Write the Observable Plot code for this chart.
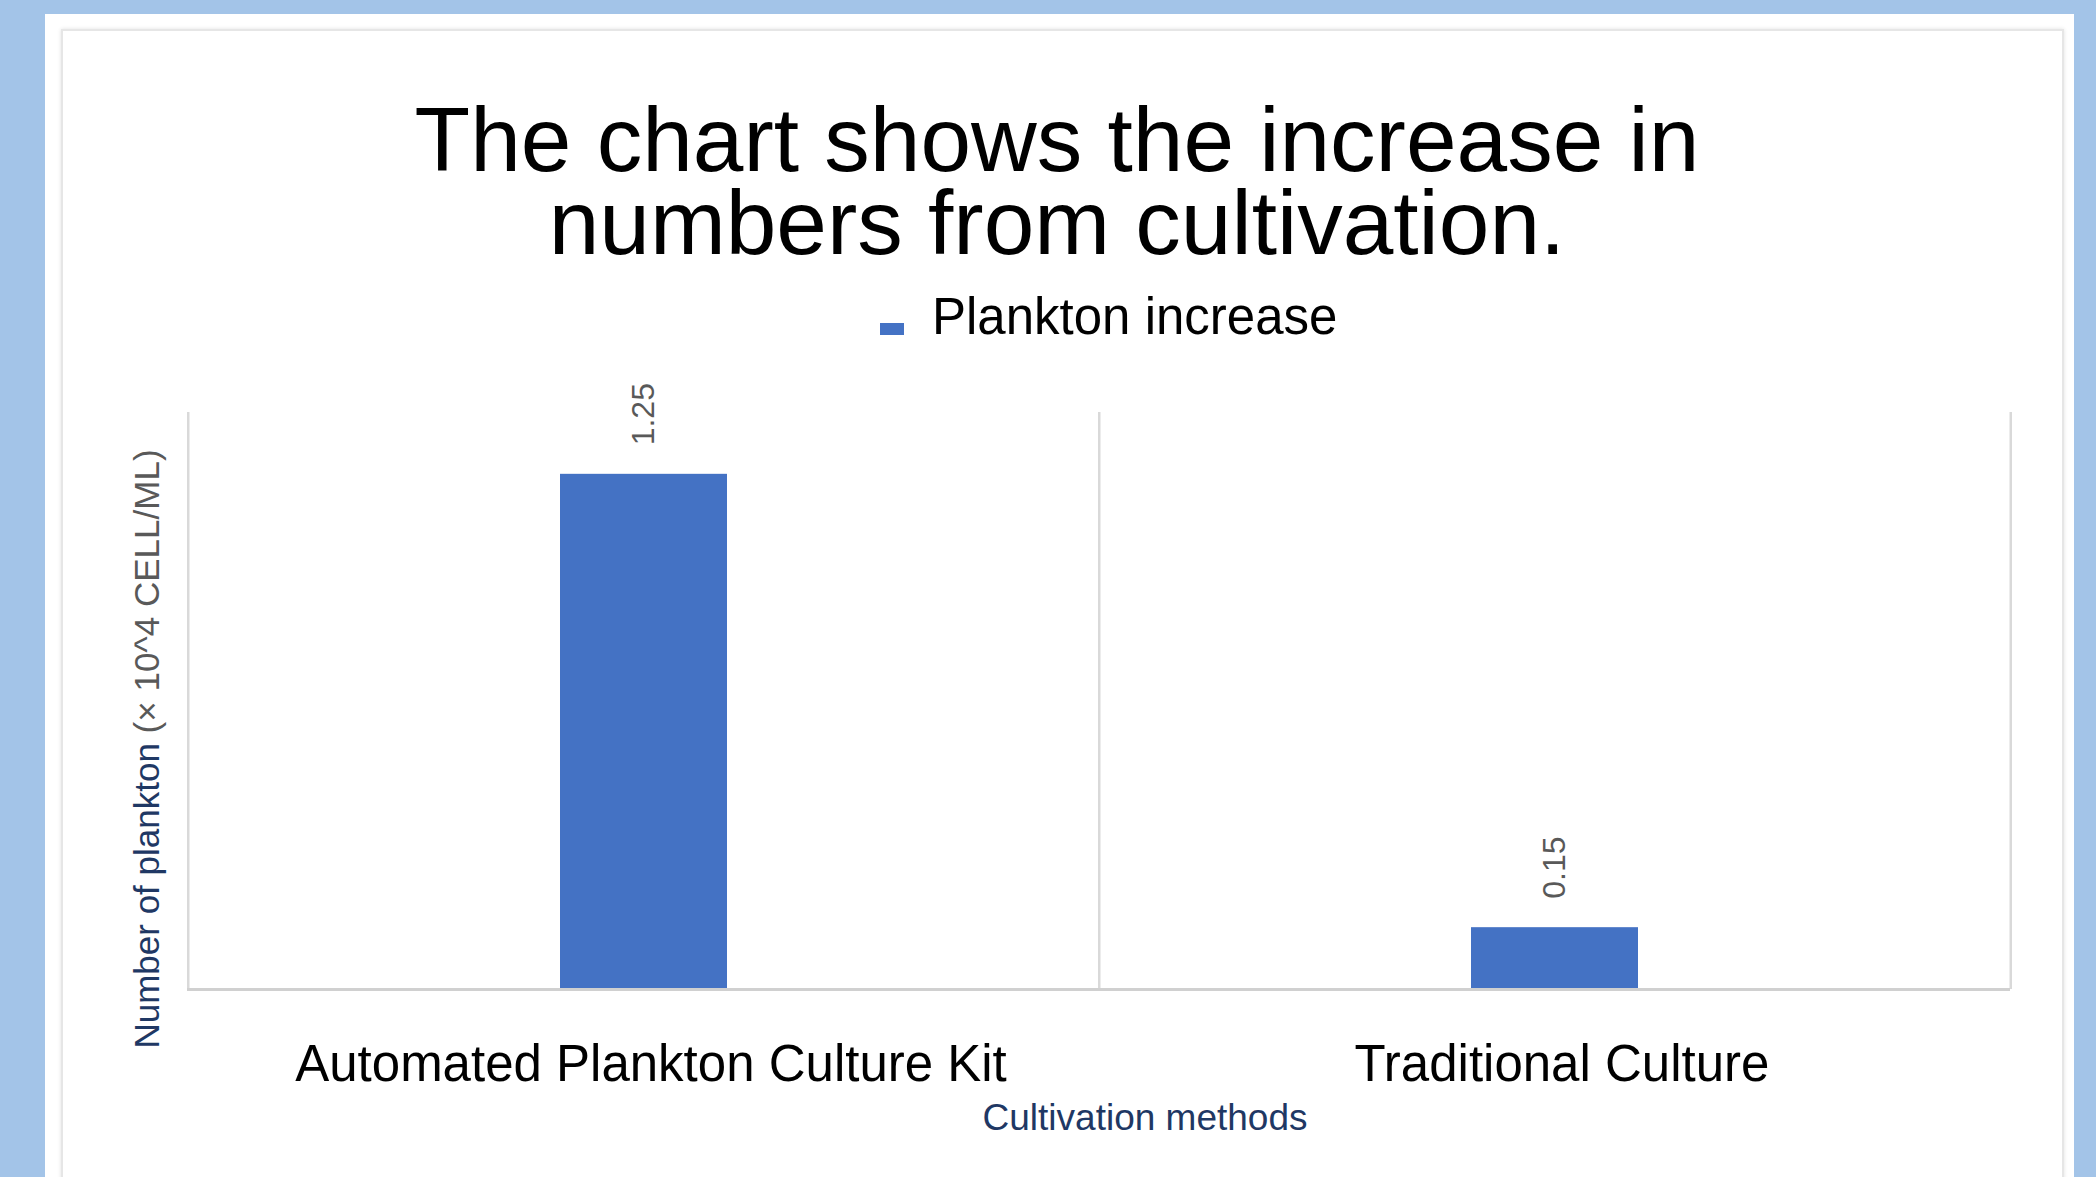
<!DOCTYPE html>
<html>
<head>
<meta charset="utf-8">
<script src="https://cdn.jsdelivr.net/npm/d3@7"></script>
<script src="https://cdn.jsdelivr.net/npm/@observablehq/plot@0.6"></script>
<style>
  html, body { margin: 0; padding: 0; }
  body { width: 2096px; height: 1177px; overflow: hidden; background: #A3C4E8; position: relative; font-family: "Liberation Sans", Arial, sans-serif; }
  #panel { position: absolute; left: 45px; top: 14px; width: 2029px; height: 1200px; background: #fff; }
  #card { position: absolute; left: 61px; top: 29px; width: 1999px; height: 1200px; border: 2px solid #e6e6e6; box-shadow: 0 0 4px rgba(0,0,0,0.12); background: #fff; }
  #title { position: absolute; left: 61px; top: 98px; width: 1992px; text-align: center; font-size: 91px; line-height: 83px; color: #000; }
  #title div { height: 83px; white-space: nowrap; }
  #legend { position: absolute; left: 880px; top: 291px; height: 51px; font-size: 51px; line-height: 51px; color: #000; white-space: nowrap; }
  #legend .sw { position: absolute; left: 0; top: 32px; width: 24px; height: 12px; background: #4472C4; }
  #legend .lb { position: absolute; left: 52px; top: 0; }
  #chart { position: absolute; left: 0; top: 360px; }
</style>
</head>
<body>
<div id="panel"></div>
<div id="card"></div>
<div id="title"><div id="t1"></div><div id="t2"></div></div>
<div id="legend"><div class="sw"></div><div class="lb"></div></div>
<div id="chart"></div>
<script>
// ---- data ----
const titleLines = ["The chart shows the increase in", "numbers from cultivation."];
const seriesName = "Plankton increase";
const methods = ["Automated Plankton Culture Kit", "Traditional Culture"];
const increase = [1.25, 0.15];
const yTitleMain = "Number of plankton";
const yTitleUnit = "(× 10^4 CELL/ML)";
const xTitle = "Cultivation methods";
const yMax = 1.4;

const data = methods.map((m, i) => ({method: m, value: increase[i]}));

document.getElementById("t1").textContent = titleLines[0];
document.getElementById("t2").textContent = titleLines[1];
document.querySelector("#legend .lb").textContent = seriesName;

// ---- layout ----
const W = 2096, H = 817;
const mL = 187, mR = 86, mT = 52, mB = 188;
const pInner = 0.817, pOuter = pInner / 2;
const step = (W - mL - mR) / (methods.length - pInner + 2 * pOuter);
const gridColor = "#d9d9d9";
const yTitle = yTitleMain + " " + yTitleUnit;

const chart = Plot.plot({
  width: W,
  height: H,
  marginLeft: mL,
  marginRight: mR,
  marginTop: mT,
  marginBottom: mB,
  style: {fontFamily: "Liberation Sans, Arial, sans-serif", fontSize: "51px", color: "#000", background: "transparent"},
  x: {domain: methods, paddingInner: pInner, paddingOuter: pOuter, align: 0.5, label: null},
  y: {domain: [0, yMax], axis: null},
  marks: [
    Plot.ruleX(methods, {x: d => d, dx: -step / 2, stroke: gridColor, strokeWidth: 2.5}),
    Plot.ruleX(methods.slice(-1), {x: d => d, dx: step / 2, stroke: gridColor, strokeWidth: 2.5}),
    Plot.barY(data, {x: "method", y: "value", fill: "#4472C4"}),
    Plot.ruleY([0], {stroke: "#d0d0d0", strokeWidth: 3}),
    Plot.axisX({tickSize: 0, tickPadding: 55, dx: 7, fontSize: 51, fill: "#000", label: null}),
    Plot.text(data, {x: "method", y: "value", text: d => d.value.toFixed(2), rotate: -90, textAnchor: "start", lineAnchor: "middle", dy: -29, fontSize: 32, fill: "#595959"}),
    Plot.text([yTitle], {text: d => d, frameAnchor: "left", rotate: -90, textAnchor: "middle", lineAnchor: "middle", dx: -40, dy: 48, fontSize: 35, fill: "#1F3864"}),
    Plot.text([xTitle], {text: d => d, frameAnchor: "bottom", textAnchor: "middle", lineAnchor: "middle", dx: 46, dy: 129, fontSize: 37, fill: "#1F3864"})
  ]
});
document.getElementById("chart").appendChild(chart);

// split the y title into two coloured runs
d3.select(chart).selectAll("text").filter(function() { return this.textContent === yTitle; }).each(function() {
  const t = d3.select(this);
  t.text(null);
  t.append("tspan").attr("fill", "#1F3864").text(yTitleMain + " ");
  t.append("tspan").attr("fill", "#595959").text(yTitleUnit);
});
</script>
</body>
</html>
